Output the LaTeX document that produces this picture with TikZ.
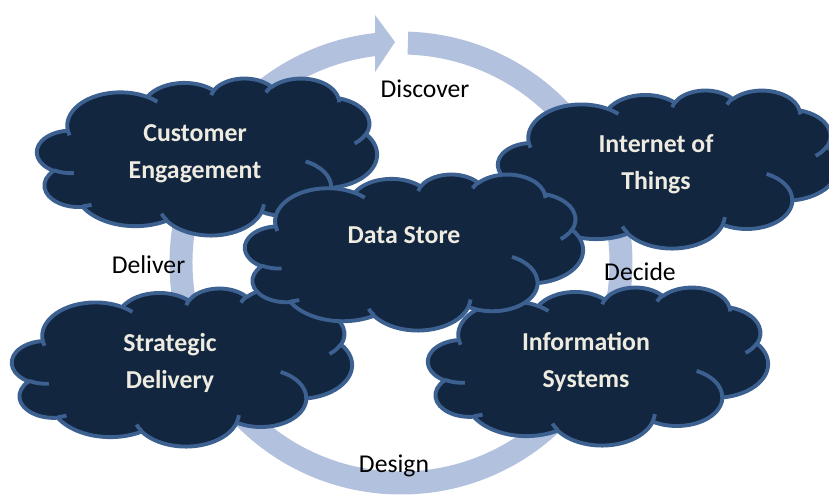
\documentclass[tikz,border=0pt]{standalone}
\usepackage{fontspec}
\setmainfont{Carlito}
\definecolor{ringblue}{RGB}{178,193,222}
\definecolor{cloudnavy}{RGB}{19,38,64}
\definecolor{cloudedge}{RGB}{60,97,145}
\definecolor{cloudtxt}{RGB}{238,236,225}
\tikzstyle{cloudbody}=[fill=cloudnavy, draw=cloudedge, line width=2.2pt, line join=round]
\tikzstyle{cloudline}=[draw=cloudedge, line width=2.2pt]
\tikzstyle{cloudtext}=[text=cloudtxt, font=\fontsize{14.7}{20.6}\selectfont\bfseries, align=center, inner sep=0pt, anchor=base]
\tikzstyle{phase}=[font=\fontsize{14.6}{17}\selectfont, inner sep=0pt, anchor=base]

% one puff of the cloud outline (visual angles -> parametric)
\newcommand{\cloudarc}[4]{arc[x radius=#1, y radius=#2,
  start angle={atan2(#1*sin(#3),#2*cos(#3))},
  delta angle={mod(atan2(#1*sin(#3+#4),#2*cos(#3+#4))-atan2(#1*sin(#3),#2*cos(#3))+720,360)}]}

% cloud in the box left/top/width/height
\newcommand{\drawcloud}[4]{%
  \begin{scope}[shift={(#1,#2)}, xscale=#3/432, yscale=#4/432]
    \filldraw[cloudbody] (39,143.7)
      \cloudarc{67.53}{91.90}{-190.4875}{123.7805}
      \cloudarc{53.33}{72.67}{-144.1024}{89.9452}
      \cloudarc{43.65}{59.45}{-145.8079}{99.7230}
      \cloudarc{48.57}{65.95}{-130.9861}{117.2417}
      \cloudarc{53.33}{72.73}{-78.7089}{109.0269}
      \cloudarc{67.75}{92.20}{-46.2673}{130.2690}
      \cloudarc{57.85}{78.67}{0.6250}{114.0333}
      \cloudarc{67.52}{92.15}{22.4516}{115.1726}
      \cloudarc{77.20}{105.43}{66.2426}{75.7110}
      \cloudarc{43.60}{59.18}{-274.9421}{146.7356}
      \cloudarc{43.45}{59.45}{-246.8285}{152.5189}
      -- cycle;
    \foreach \px/\py/\rx/\ry/\angst/\angsw in {
        46.93/261.77/43.45/59.45/86.7420/26.4295,
        69.28/348.99/43.60/59.18/73.6105/11.4475,
        164.78/390.90/67.52/92.15/137.6242/14.0811,
        288.27/347.51/67.52/92.15/6.4533/15.9984,
        341.29/229.54/57.85/78.67/-70.2924/70.9174,
        417.98/153.54/53.33/72.73/30.3180/27.7515,
        383.24/54.26/48.57/65.95/-13.7443/14.8589,
        290.78/39.52/48.57/65.95/-149.1815/18.1954,
        221.41/47.20/43.65/59.45/-163.4943/17.6864,
        140.00/51.92/67.53/91.90/-66.7070/12.3194,
        41.27/157.89/67.53/91.90/157.6544/11.8582}
      \draw[cloudline] (\px,\py) \cloudarc{\rx}{\ry}{\angst}{\angsw};
  \end{scope}}

\begin{document}
\begin{tikzpicture}[x=0.02cm, y=-0.02cm]
  \useasboundingbox (0,0) rectangle (829,495);

  % ring arrow
  \begin{scope}[shift={(401,263)}]
    \fill[ringblue] (-88.2:231.5) arc[start angle=-88.2, end angle=263.55, radius=231.5]
      -- (-26,-248) -- (-6,-221) -- (-26,-191)
      -- (262.84:208.5) arc[start angle=262.84, end angle=-88.2, radius=208.5] -- cycle;
  \end{scope}

  % clouds (text nodes sit on the baseline of their last line)
  \drawcloud{37}{78}{340}{157}
  \node[cloudtext] (customer) at (195,178) {Customer\\Engagement};

  \drawcloud{498}{90}{340}{158}
  \node[cloudtext] (iot) at (656,189) {Internet of\\Things};

  \drawcloud{12}{288}{340}{158}
  \node[cloudtext] (strategic) at (170,388) {Strategic\\Delivery};

  \drawcloud{428}{287}{340}{158}
  \node[cloudtext] (infosys) at (586,387) {Information\\Systems};

  \drawcloud{245}{174}{338}{156}
  \node[cloudtext] (datastore) at (404,243) {Data Store};

  % phases
  \node[phase] (discover) at (425,97) {Discover};
  \node[phase] (decide) at (640,280) {Decide};
  \node[phase] (design) at (394,472) {Design};
  \node[phase] (deliver) at (148.5,273) {Deliver};

\end{tikzpicture}
\end{document}
